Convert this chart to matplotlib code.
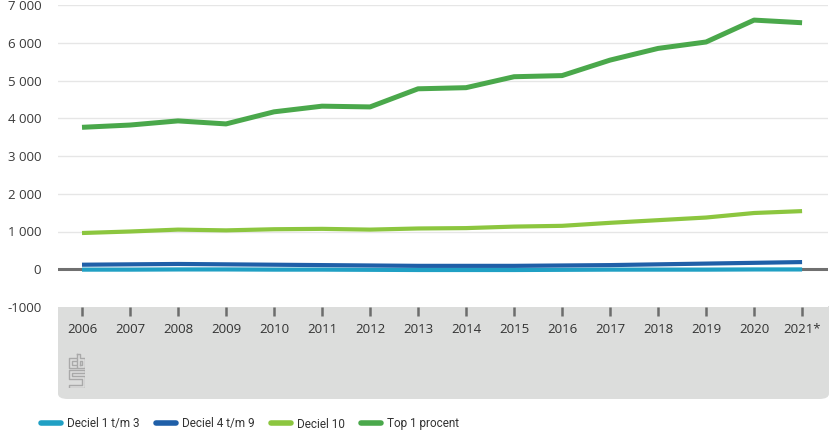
import matplotlib
matplotlib.use("Agg")
import matplotlib.pyplot as plt
from matplotlib.patches import FancyBboxPatch, Rectangle
from matplotlib.ticker import FuncFormatter

years = list(range(2006, 2022))
year_labels = [str(y) for y in years[:-1]] + ["2021*"]

deciel_1_3 = [-10, -10, -5, -5, -10, -10, -15, -20, -20, -20, -15, -10, -10, -10, -5, -5]
deciel_4_9 = [120, 130, 140, 130, 120, 110, 100, 90, 90, 90, 100, 110, 130, 150, 170, 190]
deciel_10 = [960, 1000, 1050, 1030, 1060, 1070, 1050, 1080, 1090, 1130, 1150, 1230, 1300, 1370, 1490, 1540]
top_1 = [3760, 3820, 3930, 3850, 4170, 4320, 4300, 4780, 4810, 5100, 5130, 5540, 5850, 6020, 6600, 6530]

series = [
    ("Deciel 1 t/m 3", deciel_1_3, "#20a0c4", 3.0),
    ("Deciel 4 t/m 9", deciel_4_9, "#1f5fa8", 3.0),
    ("Deciel 10", deciel_10, "#8cc63f", 3.0),
    ("Top 1 procent", top_1, "#4aa84b", 3.6),
]

plt.rcParams['font.family'] = ['Open Sans', 'DejaVu Sans']

W, H = 832, 437
fig = plt.figure(figsize=(W / 100, H / 100), dpi=100)

# grey panel under the x axis, rounded at the bottom
panel_l, panel_r, panel_t, panel_b = 58, 829, 306, 399
fig.patches.append(FancyBboxPatch(
    (panel_l / W, 1 - panel_b / H), (panel_r - panel_l) / W, (panel_b - panel_t) / H,
    boxstyle="round,pad=0,rounding_size=0.012", transform=fig.transFigure,
    facecolor="#dcdddc", edgecolor="none", zorder=-2))
fig.patches.append(Rectangle(
    (panel_l / W, 1 - (panel_t + 40) / H), (panel_r - panel_l) / W, 40 / H,
    transform=fig.transFigure, facecolor="#dcdddc", edgecolor="none", zorder=-2))

ax = fig.add_axes([58 / W, 1 - 307 / H, (828 - 58) / W, (307 - 5) / H])
ax.set_zorder(2)
ax.set_xlim(2005.5, 2021.54)
ax.set_ylim(-1000, 7000)

for y in range(1000, 8000, 1000):
    ax.axhline(y, color="#e6e6e6", linewidth=1.0, zorder=1)
ax.axhline(0, color="#707070", linewidth=2.2, zorder=2)

for label, values, color, lw in series:
    ax.plot(years, values, color=color, linewidth=lw, label=label,
            solid_capstyle="butt", zorder=3)

for s in ax.spines.values():
    s.set_visible(False)

ax.set_yticks(range(-1000, 8000, 1000))
ax.yaxis.set_major_formatter(FuncFormatter(
    lambda v, p: "-1000" if v < 0 else f"{int(v):,}".replace(",", " ")))
ax.tick_params(axis="y", length=0, pad=12, labelsize=9.5, labelcolor="#3a3a3a")

ax.set_xticks(years)
ax.set_xticklabels(year_labels)
ax.tick_params(axis="x", direction="out", length=6.5, width=1.8, color="#6c6c6c",
               pad=5, labelsize=9.5, labelcolor="#333333")

# cbs logo outline in the panel
logo = fig.add_axes([68 / W, 1 - 388 / H, 17 / W, 35 / H])
logo.set_zorder(1)
logo.set_xlim(-0.5, 16.5)
logo.set_ylim(-0.5, 34.5)
logo.axis("off")
logo_paths = [
    ([7, 0, 0, 7], [30, 30, 20, 20]),
    ([7, 3, 3, 7], [27, 27, 23, 23]),
    ([8, 8, 16, 16, 11, 11, 8], [34, 20, 20, 30, 30, 34, 34]),
    ([11, 13, 13, 11, 11], [23, 23, 27, 27, 23]),
    ([16, 0, 0, 13, 13, 0, 0, 16, 16, 3, 3, 16, 16], [18, 18, 9, 9, 3, 3, 0, 0, 12, 12, 15, 15, 18]),
]
for xs, ys in logo_paths:
    logo.plot(xs, ys, color="#a9a9a9", linewidth=1.0)

handles, labels = ax.get_legend_handles_labels()
leg = fig.legend(handles, labels, loc="center left", bbox_to_anchor=(30 / W, 1 - 424 / H),
                 ncol=4, frameon=False, handlelength=1.7, handletextpad=0.5,
                 columnspacing=1.4, prop={"family": "Roboto", "size": 8.5})
for line in leg.get_lines():
    line.set_linewidth(4)
    line.set_solid_capstyle("round")
for t in leg.get_texts():
    t.set_color("#333333")

fig.savefig("out.png", dpi=100)
